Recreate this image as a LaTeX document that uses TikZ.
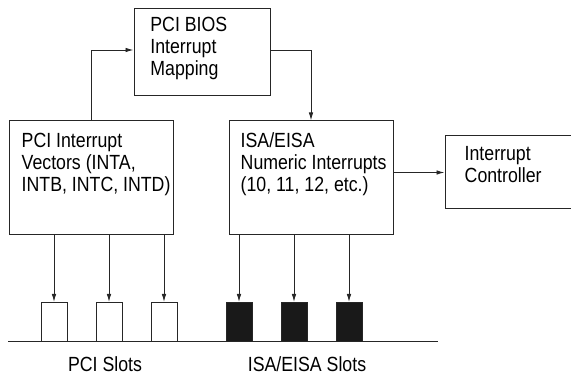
\documentclass[tikz,border=0pt]{standalone}
\usepackage{fontspec}
\setmainfont{Liberation Sans}[FakeStretch=0.865]
\usetikzlibrary{arrows.meta,positioning}
\tikzset{
    %Define standard arrow tip
    >={Latex[length=8pt,width=4.5pt]},
    %Define style for boxes
    blok/.style={
           rectangle,
           draw=black!85, line width=1pt,
           inner sep=0pt},
    %Define style for box texts
    tekst/.style={
           anchor=north west,
           inner sep=0pt,
           align=left,
           font=\fontsize{20.5}{22}\selectfont},
    %Define style for slots
    pcislot/.style={
           rectangle,
           draw=black!85, line width=1pt,
           fill=white,
           minimum width=26pt,
           minimum height=39pt,
           inner sep=0pt},
    isaslot/.style={pcislot, fill=black!90},
    % Define arrow style
    pil/.style={
           ->,
           draw=black!85,
           line width=0.9pt}
}
\begin{document}
\begin{tikzpicture}[x=1pt, y=1pt, node distance=51pt]
 \useasboundingbox (0,0) rectangle (571,375);
 \clip (0,0) rectangle (571,375);

 \node[blok, minimum width=136pt, minimum height=87pt] (bios) at (202,322.5) {};
 \node[blok, minimum width=164pt, minimum height=114pt] (pcivec) at (91,197) {};
 \node[blok, minimum width=164pt, minimum height=114pt, right=55pt of pcivec] (isa) {};
 \node[blok, minimum width=140pt, minimum height=73pt, right=of isa, yshift=5.5pt] (ctrl) {};

 \node[tekst] at ([shift={(16.7,-8.7)}]bios.north west) {PCI BIOS\\Interrupt\\Mapping};
 \node[tekst] at ([shift={(13,-12)}]pcivec.north west) {PCI Interrupt\\Vectors (INTA,\\INTB, INTC, INTD)};
 \node[tekst] at ([shift={(12,-12)}]isa.north west) {ISA/EISA\\Numeric Interrupts\\(10, 11, 12, etc.)};
 \node[tekst] at ([shift={(20,-10.7)}]ctrl.north west) {Interrupt\\Controller};

 \draw[pil] (pcivec.north) |- ([yshift=2.5pt]bios.west);
 \draw[pil] ([yshift=2.5pt]bios.east) -| (isa.north);
 \draw[pil] (isa.east |- ctrl.west) -- (ctrl.west);

 % slot bus
 \coordinate (bus0) at (8,33);
 \coordinate (bus1) at (438,33);
 \draw[draw=black!85, line width=1pt] (bus0) -- (bus1);

 \foreach \x [count=\i] in {54,109,164} {
   \node[pcislot, anchor=south] (p\i) at (\x,33) {};
   \draw[pil] (p\i.north |- pcivec.south) -- (p\i.north);
 }
 \foreach \x [count=\i] in {239,294,349} {
   \node[isaslot, anchor=south] (e\i) at (\x,33) {};
   \draw[pil] (e\i.north |- isa.south) -- (e\i.north);
 }

 \node[anchor=base, font=\fontsize{20.5}{22}\selectfont] (pcilbl) at (105,3) {PCI Slots};
 \node[anchor=base, font=\fontsize{20.5}{22}\selectfont] (isalbl) at (307,3) {ISA/EISA Slots};
\end{tikzpicture}
\end{document}
